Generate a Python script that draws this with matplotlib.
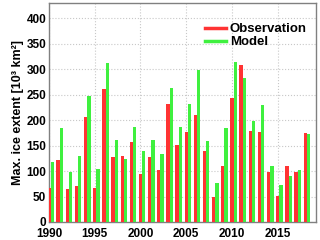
import matplotlib
matplotlib.use('Agg')
import matplotlib.pyplot as plt
import numpy as np

years = np.arange(1990, 2019)
observation = [66, 121, 65, 70, 206, 67, 262, 127, 129, 157, 94, 127, 102, 231,
               152, 176, 210, 139, 49, 110, 244, 309, 178, 176, 99, 51, 110, 99, 175]
model = [118, 184, 98, 129, 248, 104, 313, 161, 123, 187, 139, 161, 134, 264,
         186, 232, 298, 159, 77, 185, 314, 283, 198, 230, 110, 72, 91, 102, 173]

plt.rcParams['font.family'] = ['Liberation Sans', 'DejaVu Sans']
plt.rcParams['font.weight'] = 'bold'

fig = plt.figure(figsize=(3.2, 2.4), dpi=100)
ax = fig.add_axes([0.153, 0.075, 0.835, 0.9125])

w = 0.36
ax.bar(years, observation, width=w, color='#ff3333', zorder=3)
ax.bar(years + w, model, width=w, color='#3ff03f', zorder=3)

# legend drawn with lines like the original
ax.plot([], [], color='#ff3333', lw=2.5, label='Observation')
ax.plot([], [], color='#3ff03f', lw=2.5, label='Model')
leg = ax.legend(loc='upper right', frameon=False, fontsize=9.5, handlelength=1.6,
                handletextpad=0.3, labelspacing=0.05, borderaxespad=0.3,
                bbox_to_anchor=(1.0, 0.95))
for t in leg.get_texts():
    t.set_fontweight('bold')

ax.set_xlim(1990, 2019.2)
ax.set_ylim(0, 430)
ax.set_yticks(np.arange(0, 401, 50))
ax.set_xticks(np.arange(1990, 2016, 5))
ax.tick_params(length=0, labelsize=8.5)
ax.tick_params(axis='x', pad=4)
ax.tick_params(axis='y', pad=2)
for lab in ax.get_xticklabels() + ax.get_yticklabels():
    lab.set_fontweight('bold')
ax.grid(True, color='#c8c8c8', linestyle=':', linewidth=0.8, zorder=0)
for s in ax.spines.values():
    s.set_color('#808080')
    s.set_linewidth(1.0)

ax.set_ylabel('Max. ice extent [10³ km²]', fontsize=9, fontweight='bold', labelpad=2)

fig.savefig('out.png', dpi=100)
